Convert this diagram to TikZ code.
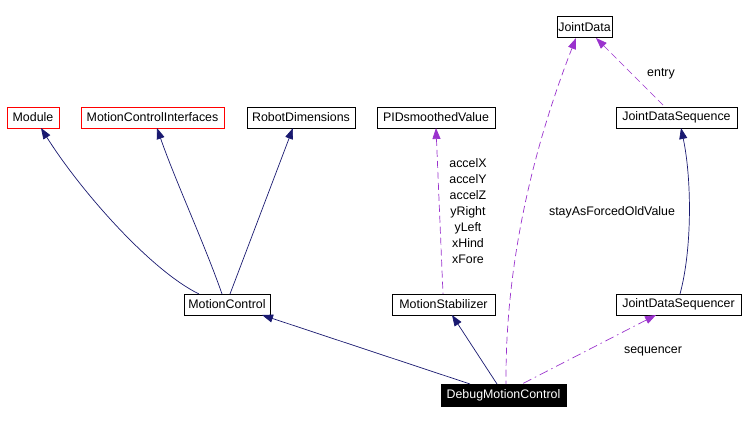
\documentclass[tikz,border=0pt]{standalone}
\usepackage{fontspec}
\setmainfont{Liberation Sans}
\usetikzlibrary{arrows.meta}
\definecolor{navyc}{HTML}{191970}
\definecolor{purp}{HTML}{9A32CD}
\tikzset{
  cls/.style={draw=black, line width=0.8pt, inner sep=0pt, minimum height=21pt, font=\fontsize{12.4}{14}\selectfont, fill=white},
  redcls/.style={cls, draw=red},
  maincls/.style={cls, fill=black, text=white},
  inh/.style={draw=navyc, line width=0.7pt, {Triangle[length=11pt,width=8pt]}-},
  use/.style={draw=purp, line width=0.7pt, dash pattern=on 7pt off 4pt, {Triangle[length=11pt,width=8pt]}-},
  usedd/.style={draw=purp, line width=0.7pt, dash pattern=on 9pt off 4pt on 1.5pt off 4pt, {Triangle[length=11pt,width=8pt]}-},
  lbl/.style={font=\fontsize{12.4}{16}\selectfont, inner sep=0pt, align=center}
}
\begin{document}
\begin{tikzpicture}[x=1pt,y=-1pt]
\useasboundingbox (0,0) rectangle (745,423);
% nodes
\node[cls, minimum width=55pt] (jd) at (584.5,27) {JointData};
\node[redcls, minimum width=52pt] (mod) at (33,117.5) {Module};
\node[redcls, minimum width=143pt] (mci) at (152.5,117.5) {MotionControlInterfaces};
\node[cls, minimum width=108pt] (rd) at (301,117.5) {RobotDimensions};
\node[cls, minimum width=118pt] (pid) at (436,117.5) {PIDsmoothedValue};
\node[cls, minimum width=121pt] (jds) at (676.5,117.5) {JointDataSequence};
\node[cls, minimum width=86pt] (mc) at (227,304.5) {MotionControl};
\node[cls, minimum width=103pt] (ms) at (443.5,304.5) {MotionStabilizer};
\node[cls, minimum width=125pt] (jdsr) at (678.5,304.5) {JointDataSequencer};
\node[maincls, minimum width=125pt, minimum height=22pt] (dmc) at (503.5,395) {DebugMotionControl};
% coordinates on borders
\coordinate (mcA) at (199,294);
\coordinate (mcB) at (222,294);
\coordinate (mcC) at (230,294);
\coordinate (mcD) at (262,315);
\coordinate (modB) at (41,128);
\coordinate (mciB) at (157,128);
\coordinate (rdB) at (293,128);
\coordinate (pidB) at (436,128);
\coordinate (msT) at (443,294);
\coordinate (msB) at (452,315);
\coordinate (jdB1) at (576,38);
\coordinate (jdB2) at (596,38);
\coordinate (jdsT) at (665,107);
\coordinate (jdsB) at (681,128);
\coordinate (jdsrT) at (680,294);
\coordinate (jdsrB) at (656,315);
\coordinate (dmcA) at (470,384);
\coordinate (dmcB) at (497,384);
\coordinate (dmcC) at (506,384);
\coordinate (dmcD) at (522,384);
% inheritance edges
\draw[inh] (modB) .. controls (80,190) and (150,270) .. (mcA);
\draw[inh] (mciB) .. controls (175,180) and (205,245) .. (mcB);
\draw[inh] (rdB) -- (mcC);
\draw[inh] (mcD) -- (dmcA);
\draw[inh] (msB) -- (dmcB);
\draw[inh] (jdsB) .. controls (692,180) and (692,250) .. (jdsrT);
% usage edges
\draw[use] (pidB) -- (msT);
\draw[use] (jdB1) .. controls (540,130) and (505,250) .. (dmcC);
\draw[use] (jdB2) -- (jdsT);
\draw[usedd] (jdsrB) -- (dmcD);
% labels
\node[lbl] (l1) at (468,211) {accelX\\accelY\\accelZ\\yRight\\yLeft\\xHind\\xFore};
\node[lbl] (l2) at (612,212) {stayAsForcedOldValue};
\node[lbl] (l3) at (661,74) {entry};
\node[lbl] (l4) at (653,351) {sequencer};
\end{tikzpicture}
\end{document}
